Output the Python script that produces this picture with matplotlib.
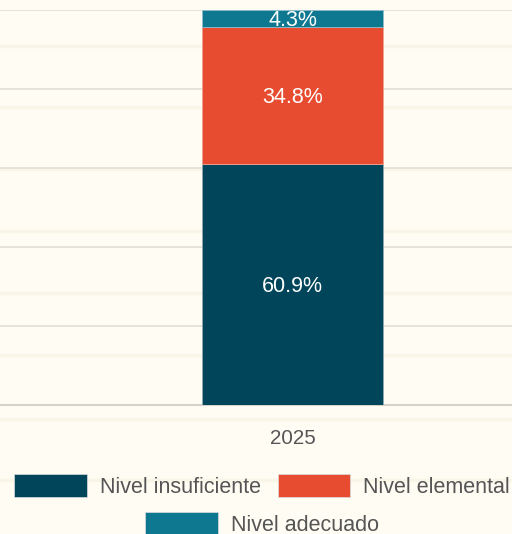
import matplotlib.pyplot as plt
from matplotlib.lines import Line2D
from matplotlib.patches import Patch
from matplotlib.transforms import offset_copy

plt.rcParams['font.family'] = ['Liberation Sans', 'DejaVu Sans']

years = ['2025']
insuficiente = [60.9]
elemental = [34.8]
adecuado = [4.3]
labels = ['Nivel insuficiente', 'Nivel elemental', 'Nivel adecuado']
colors = ['#00455a', '#e84c30', '#0f7891']

bg = '#fffcf3'
fig = plt.figure(figsize=(5.12, 5.34), dpi=100, facecolor=bg)
ax = fig.add_axes([0, 0.2416, 1, 0.7397])
ax.set_facecolor('none')

# faint ruled-paper lines behind everything
for yp in [46, 107, 169, 231, 293, 355, 419, 480]:
    fig.add_artist(Line2D([0, 1], [1 - yp / 534, 1 - yp / 534], transform=fig.transFigure,
                          color='#f9f6e7', lw=2.5, zorder=-5))

x = [0]
w = 0.3535
b1 = ax.bar(x, insuficiente, w, color=colors[0], edgecolor='#8fa9b0', linewidth=0.6, zorder=3)
b2 = ax.bar(x, elemental, w, bottom=insuficiente, color=colors[1], edgecolor='#f0a090', linewidth=0.6, zorder=3)
bot3 = [a + b for a, b in zip(insuficiente, elemental)]
b3 = ax.bar(x, adecuado, w, bottom=bot3, color=colors[2], edgecolor='#8fbccb', linewidth=0.6, zorder=3)

tr = offset_copy(ax.transData, fig=fig, x=0, y=-1.5, units='points')
for bars, vals, bots in [(b1, insuficiente, [0]), (b2, elemental, insuficiente), (b3, adecuado, bot3)]:
    for r, v, b0 in zip(bars, vals, bots):
        ax.text(r.get_x() + r.get_width() / 2, b0 + v / 2, f'{v}%', ha='center', va='center',
                color='white', fontsize=15.5, zorder=4, transform=tr)

ax.set_xlim(-0.5713, 0.4287)
ax.set_ylim(0, 100)
ax.set_yticks([0, 20, 40, 60, 80, 100])
ax.yaxis.grid(True, color='#e2dfd7', lw=1.2, zorder=0)
ax.set_axisbelow(True)
ax.tick_params(left=False, labelleft=False, bottom=False)
ax.set_xticks(x)
ax.set_xticklabels(years, fontsize=14.8, color='#555555')
ax.tick_params(axis='x', pad=14)
for s in ['top', 'left', 'right']:
    ax.spines[s].set_visible(False)
ax.spines['bottom'].set_color('#d5d2ca')
ax.spines['bottom'].set_linewidth(1.5)

handles = [Patch(facecolor=c, edgecolor='#dddddd', linewidth=0.5) for c in colors]
cx = 0.5 + 6 / 512
leg1 = fig.legend(handles[:2], labels[:2], loc='center', bbox_to_anchor=(cx, 1 - 486 / 534),
                  ncol=2, frameon=False, fontsize=15.5, handlelength=3.35, handleheight=1.3,
                  handletextpad=0.6, columnspacing=0.8, labelcolor='#555555')
leg2 = fig.legend(handles[2:], labels[2:], loc='center', bbox_to_anchor=(cx, 1 - 524 / 534),
                  frameon=False, fontsize=15.5, handlelength=3.35, handleheight=1.3,
                  handletextpad=0.6, labelcolor='#555555')

fig.savefig('out.png', dpi=100, facecolor=bg)
